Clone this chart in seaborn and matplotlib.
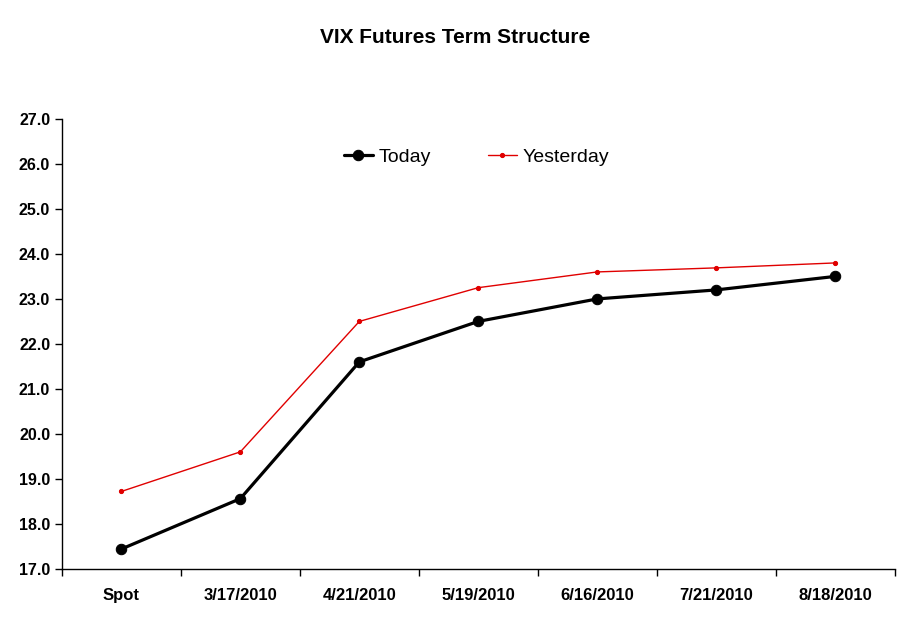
import numpy as np
import pandas as pd
import seaborn as sns
import matplotlib.pyplot as plt
from matplotlib.ticker import FixedLocator, FormatStrFormatter

categories = ["Spot", "3/17/2010", "4/21/2010", "5/19/2010", "6/16/2010", "7/21/2010", "8/18/2010"]
today = [17.44, 18.56, 21.6, 22.5, 23.0, 23.2, 23.5]
yesterday = [18.72, 19.6, 22.5, 23.25, 23.6, 23.69, 23.8]

sns.set_style("white")
plt.rcParams['font.family'] = ['Liberation Sans', 'DejaVu Sans']
plt.rcParams['text.color'] = 'black'
plt.rcParams['xtick.color'] = 'black'
plt.rcParams['ytick.color'] = 'black'

pos = np.arange(len(categories))
df = pd.DataFrame({"pos": pos, "Today": today, "Yesterday": yesterday})

fig = plt.figure(figsize=(9.11, 6.23), dpi=100)
ax = fig.add_axes([0.068, 0.087, 0.914, 0.722])

sns.lineplot(data=df, x="pos", y="Today", ax=ax, color="black", linewidth=2.3,
             marker="o", markersize=7.5, markeredgecolor="black", label="Today")
sns.lineplot(data=df, x="pos", y="Yesterday", ax=ax, color="#e00000", linewidth=1.0,
             marker="o", markersize=3, markeredgecolor="#e00000", label="Yesterday")

ax.set_xlim(-0.5, len(categories) - 0.5)
ax.set_ylim(17, 27)
ax.set_yticks(np.arange(17, 27.01, 1))
ax.yaxis.set_major_formatter(FormatStrFormatter("%.1f"))

ax.xaxis.set_major_locator(FixedLocator(np.arange(-0.5, len(categories), 1)))
ax.xaxis.set_major_formatter(plt.NullFormatter())
ax.xaxis.set_minor_locator(FixedLocator(pos))
ax.set_xticklabels(categories, minor=True)
ax.tick_params(axis="x", which="minor", length=0, pad=14)
ax.tick_params(axis="both", which="major", direction="out", length=5, width=1, color="black")
ax.tick_params(axis="x", which="major", bottom=True)
ax.tick_params(axis="y", left=True)
for lab in ax.get_yticklabels():
    lab.set_fontweight("bold")
    lab.set_fontsize(11.5)
for lab in ax.get_xticklabels(minor=True):
    lab.set_fontweight("bold")
    lab.set_fontsize(12)

ax.set_xlabel("")
ax.set_ylabel("")
for s in ["top", "right"]:
    ax.spines[s].set_visible(False)
for s in ["left", "bottom"]:
    ax.spines[s].set_color("black")
    ax.spines[s].set_linewidth(1)

ax.legend(loc="upper center", bbox_to_anchor=(0.498, 0.973), ncol=2, frameon=False,
          fontsize=14, handlelength=1.5, columnspacing=2.9, handletextpad=0.3)

fig.suptitle("VIX Futures Term Structure", y=0.955, fontsize=15, fontweight="bold")

fig.savefig("out.png", dpi=100)
